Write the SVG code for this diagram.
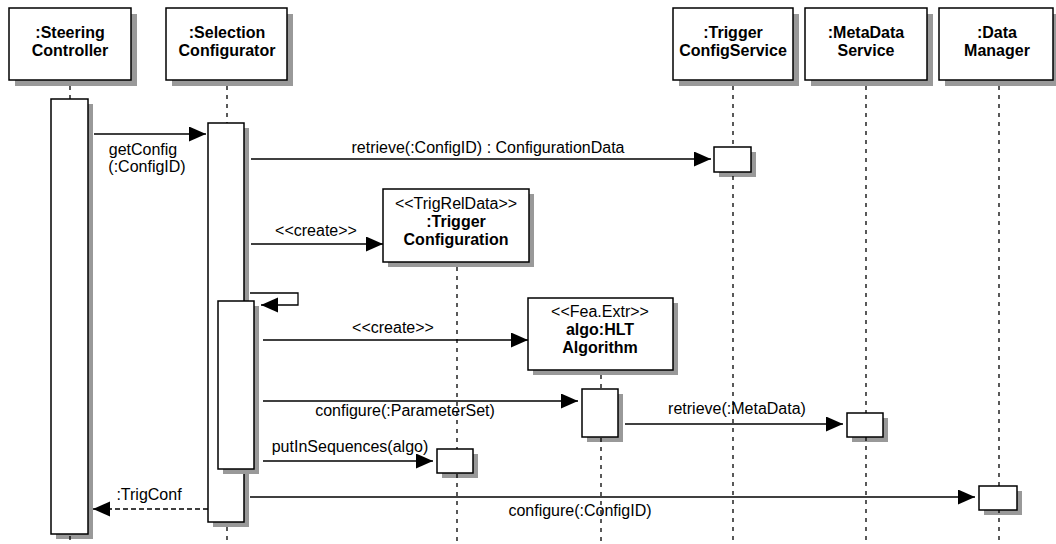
<svg xmlns="http://www.w3.org/2000/svg" width="1056" height="544" viewBox="0 0 1056 544">
<style>
text{font-family:"Liberation Sans",Arial,sans-serif;font-size:16px;fill:#000}
.b{font-weight:bold}
.c{text-anchor:middle}
.box{fill:#fff;stroke:#000;stroke-width:1.5}
.life{stroke:#000;stroke-width:1.3;stroke-dasharray:4 5;fill:none}
.msg{stroke:#000;stroke-width:1.3;fill:none}
.ret{stroke:#000;stroke-width:1.3;fill:none;stroke-dasharray:5 3}
</style>
<defs>
<marker id="ah" markerUnits="userSpaceOnUse" markerWidth="17" markerHeight="16" refX="17" refY="7.5" orient="auto">
<path d="M0,0 L17,7.5 L0,15 z" fill="#000"/>
</marker>
</defs>
<rect width="1056" height="544" fill="#fff"/>

<g id="shadows" fill="#999999">
<rect x="15" y="14" width="122" height="72"/>
<rect x="56" y="104" width="37" height="435"/>
<rect x="172" y="14" width="121" height="72"/>
<rect x="213" y="128" width="36" height="399"/>
<rect x="679" y="14" width="120" height="72"/>
<rect x="719" y="152" width="37" height="25"/>
<rect x="811" y="14" width="122" height="72"/>
<rect x="852" y="418" width="36" height="24"/>
<rect x="945" y="14" width="114" height="72"/>
<rect x="984" y="491" width="38" height="24"/>
<rect x="388" y="194" width="146" height="73"/>
<rect x="442" y="454" width="36" height="24"/>
<rect x="533" y="303" width="145" height="72"/>
<rect x="587" y="394" width="36" height="48"/>
</g>

<g id="lifelines">
<line class="life" x1="70" y1="86" x2="70" y2="544"/>
<line class="life" x1="227" y1="86" x2="227" y2="544"/>
<line class="life" x1="733" y1="86" x2="733" y2="544"/>
<line class="life" x1="866" y1="86" x2="866" y2="544"/>
<line class="life" x1="999" y1="86" x2="999" y2="544"/>
<line class="life" x1="457" y1="267" x2="457" y2="544"/>
<line class="life" x1="601" y1="375" x2="601" y2="544"/>
</g>

<g id="steering-controller">
<rect class="box" x="9" y="8" width="122" height="72"/>
<text class="b c" x="70" y="38">:Steering</text>
<text class="b c" x="70" y="56">Controller</text>
<rect class="box" x="51" y="99" width="37" height="435"/>
</g>

<g id="selection-configurator">
<rect class="box" x="166" y="8" width="121" height="72"/>
<text class="b c" x="227" y="38">:Selection</text>
<text class="b c" x="227" y="56">Configurator</text>
<rect class="box" x="208" y="123" width="36" height="399"/>
<rect fill="#999999" x="223" y="306" width="36" height="168"/>
<rect class="box" x="218" y="301" width="36" height="168"/>
</g>

<g id="trigger-config-service">
<rect class="box" x="673" y="8" width="120" height="72"/>
<text class="b c" x="733" y="38">:Trigger</text>
<text class="b c" x="733" y="56">ConfigService</text>
<rect class="box" x="714" y="147" width="37" height="25"/>
</g>

<g id="metadata-service">
<rect class="box" x="805" y="8" width="122" height="72"/>
<text class="b c" x="866" y="38">:MetaData</text>
<text class="b c" x="866" y="56">Service</text>
<rect class="box" x="847" y="413" width="36" height="24"/>
</g>

<g id="data-manager">
<rect class="box" x="939" y="8" width="114" height="72"/>
<text class="b c" x="997" y="38">:Data</text>
<text class="b c" x="997" y="56">Manager</text>
<rect class="box" x="979" y="486" width="38" height="24"/>
</g>

<g id="trigger-configuration">
<rect class="box" x="383" y="189" width="146" height="73"/>
<text class="c" x="456" y="209">&lt;&lt;TrigRelData&gt;&gt;</text>
<text class="b c" x="456" y="227">:Trigger</text>
<text class="b c" x="456" y="245">Configuration</text>
<rect class="box" x="437" y="449" width="36" height="24"/>
</g>

<g id="hlt-algorithm">
<rect class="box" x="528" y="298" width="145" height="72"/>
<text class="c" x="600" y="317">&lt;&lt;Fea.Extr&gt;&gt;</text>
<text class="b c" x="600" y="335">algo:HLT</text>
<text class="b c" x="600" y="353">Algorithm</text>
<rect class="box" x="582" y="389" width="36" height="48"/>
</g>

<g id="connectors">
<line class="msg" x1="94" y1="134" x2="206" y2="134" marker-end="url(#ah)"/>
<text class="c" x="143" y="155">getConfig</text>
<text class="c" x="147" y="172">(:ConfigID)</text>

<line class="msg" x1="251" y1="159" x2="711" y2="159" marker-end="url(#ah)"/>
<text class="c" x="488" y="153">retrieve(:ConfigID) : ConfigurationData</text>

<line class="msg" x1="251" y1="244" x2="383" y2="244" marker-end="url(#ah)"/>
<text class="c" x="316" y="236">&lt;&lt;create&gt;&gt;</text>

<path class="msg" d="M250,293 H298 V305 H261" marker-end="url(#ah)"/>

<line class="msg" x1="263" y1="340" x2="528" y2="340" marker-end="url(#ah)"/>
<text class="c" x="393" y="333">&lt;&lt;create&gt;&gt;</text>

<line class="msg" x1="263" y1="401" x2="578" y2="401" marker-end="url(#ah)"/>
<text class="c" x="405" y="416">configure(:ParameterSet)</text>

<line class="msg" x1="625" y1="424" x2="843" y2="424" marker-end="url(#ah)"/>
<text class="c" x="737" y="414">retrieve(:MetaData)</text>

<line class="msg" x1="263" y1="461" x2="433" y2="461" marker-end="url(#ah)"/>
<text class="c" x="350" y="452">putInSequences(algo)</text>

<line class="msg" x1="250" y1="497" x2="975" y2="497" marker-end="url(#ah)"/>
<text class="c" x="580" y="516">configure(:ConfigID)</text>

<line class="ret" x1="208" y1="509" x2="93" y2="509" marker-end="url(#ah)"/>
<text class="c" x="149" y="500">:TrigConf</text>
</g>
</svg>
